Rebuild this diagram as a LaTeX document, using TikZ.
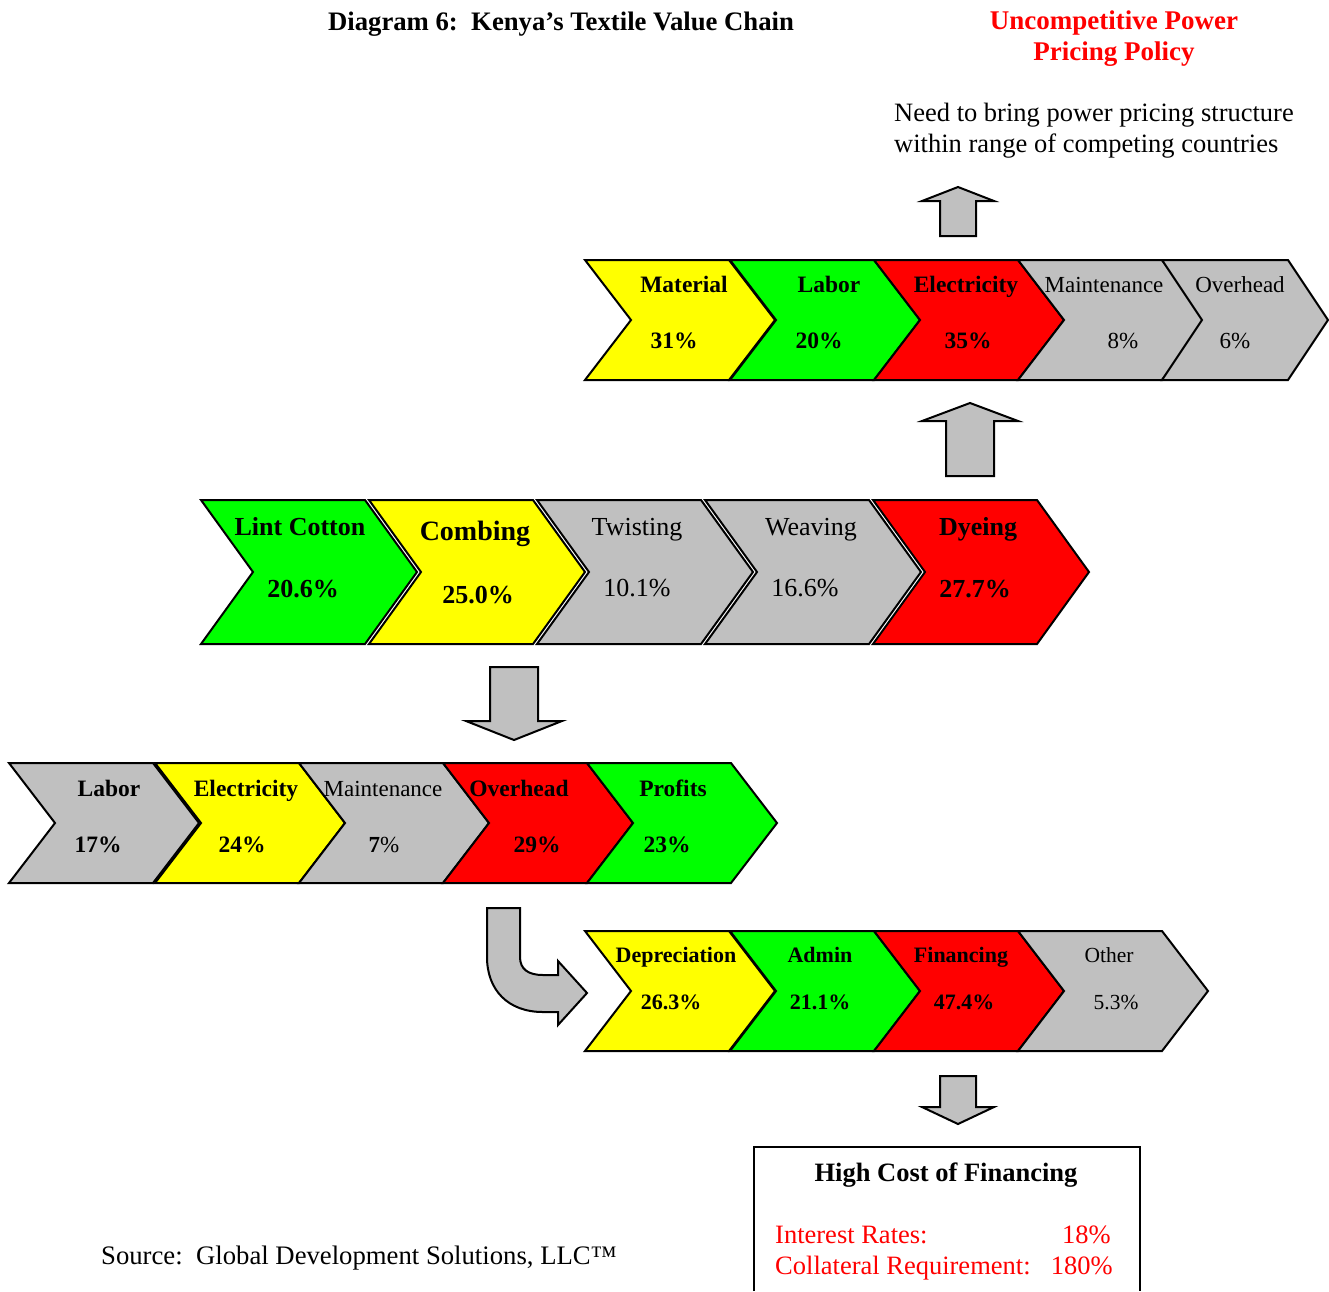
\documentclass[tikz,border=0pt]{standalone}
\usepackage{fontspec}
\setmainfont{Liberation Serif}
\usetikzlibrary{calc}

\definecolor{cyel}{RGB}{255,255,0}
\definecolor{cgrn}{RGB}{0,255,0}
\definecolor{cred}{RGB}{255,0,0}
\definecolor{cgry}{RGB}{192,192,192}

\tikzset{
    chevline/.style={draw=black, line width=2pt, line join=miter},
    blockarr/.style={draw=black, line width=2pt, fill=cgry, line join=miter},
    lbl/.style={anchor=base, inner sep=0pt, font=\fontsize{#1}{#1}\selectfont},
    lblb/.style={anchor=base, inner sep=0pt, font=\fontsize{#1}{#1}\selectfont\bfseries}
}

% chevron: left x, centre y, width, half height, tip, colour
\newcommand{\chevron}[6]{%
    \draw[chevline, fill=#6] (#1,#2-#4) -- ++(#3,0) -- ++(#5,#4) -- ++(-#5,#4)
        -- ++(-#3,0) -- ++(#5,-#4) -- cycle;}

\begin{document}
\begin{tikzpicture}[x=1pt, y=-1pt]
    \useasboundingbox (0,0) rectangle (1329,1291);

    % --- Headings ---
    \node[lblb=26.7] (title) at (561,30) {Diagram 6:\ \ Kenya’s Textile Value Chain};
    \node[text=cred, align=center, anchor=north, inner sep=0pt, font=\fontsize{27}{31}\selectfont\bfseries]
        (power) at (1114,11) {Uncompetitive Power\\Pricing Policy};
    \node[anchor=north west, align=left, inner sep=0pt, font=\fontsize{26.5}{31}\selectfont]
        (need) at (894,103) {Need to bring power pricing structure\\within range of competing countries};

    % --- Row 1: cost of yarn ---
    \foreach \x/\col in {585/cyel, 730/cgrn, 874/cred, 1018/cgry}
        \chevron{\x}{320}{144}{60}{46}{\col};
    \chevron{1162}{320}{126}{60}{40}{cgry};

    \node[lblb=23.5] (mat) at (684,292) {Material};
    \node[lblb=23.5] (matp) at (674,348) {31\%};
    \node[lblb=23.5] (lab) at (829,292) {Labor};
    \node[lblb=23.5] (labp) at (819,348) {20\%};
    \node[lblb=23.5] (elec) at (966,292) {Electricity};
    \node[lblb=23.5] (elecp) at (968,348) {35\%};
    \node[lbl=23] (maint) at (1104,292) {Maintenance};
    \node[lbl=23] (maintp) at (1123,348) {8\%};
    \node[lbl=23] (over) at (1240,292) {Overhead};
    \node[lbl=23] (overp) at (1235,348) {6\%};

    % --- Row 2: value chain stages ---
    \foreach \x/\col in {201/cgrn, 369/cyel, 537/cgry, 705/cgry, 873/cred}
        \chevron{\x}{572}{164}{72}{52}{\col};

    \node[lblb=26] (lint) at (300,535) {Lint Cotton};
    \node[lblb=26] (lintp) at (303,597) {20.6\%};
    \node[lblb=28] (comb) at (475,540) {Combing};
    \node[lblb=26] (combp) at (478,603) {25.0\%};
    \node[lbl=26] (twist) at (637,535) {Twisting};
    \node[lbl=26] (twistp) at (637,596) {10.1\%};
    \node[lbl=26] (weave) at (811,535) {Weaving};
    \node[lbl=26] (weavep) at (805,596) {16.6\%};
    \node[lblb=26] (dye) at (978,535) {Dyeing};
    \node[lblb=26] (dyep) at (975,597) {27.7\%};

    % --- Row 3: cost of combing ---
    \foreach \x/\col in {9/cgry, 155/cyel, 299/cgry, 443/cred, 587/cgrn}
        \chevron{\x}{823}{144}{60}{46}{\col};

    \node[lblb=23.5] (labc) at (109,796) {Labor};
    \node[lblb=23.5] (labcp) at (98,852) {17\%};
    \node[lblb=23.5] (elecc) at (246,796) {Electricity};
    \node[lblb=23.5] (eleccp) at (242,852) {24\%};
    \node[lbl=23] (maintc) at (383,796) {Maintenance};
    \node[lbl=23] (maintcp) at (384,852) {\bfseries 7\mdseries\%};
    \node[lblb=23.5] (overc) at (519,796) {Overhead};
    \node[lblb=23.5] (overcp) at (537,852) {29\%};
    \node[lblb=23.5] (prof) at (673,796) {Profits};
    \node[lblb=23.5] (profp) at (667,852) {23\%};

    % --- Row 4: overhead split ---
    \foreach \x/\col in {585/cyel, 730/cgrn, 874/cred, 1018/cgry}
        \chevron{\x}{991}{144}{60}{46}{\col};

    \node[lblb=22] (dep) at (676,962) {Depreciation};
    \node[lblb=22] (depp) at (671,1009) {26.3\%};
    \node[lblb=22] (adm) at (820,962) {Admin};
    \node[lblb=22] (admp) at (820,1009) {21.1\%};
    \node[lblb=22] (fin) at (961,962) {Financing};
    \node[lblb=22] (finp) at (964,1009) {47.4\%};
    \node[lbl=21.5] (oth) at (1109,962) {Other};
    \node[lbl=21.5] (othp) at (1116,1009) {5.3\%};

    % --- Block arrows ---
    \draw[blockarr] (940,236) -- (940,201) -- (922,201) -- (958,187) -- (994,201)
        -- (976,201) -- (976,236) -- cycle;
    \draw[blockarr] (946,476) -- (946,421) -- (922,421) -- (970,403) -- (1018,421)
        -- (994,421) -- (994,476) -- cycle;
    \draw[blockarr] (490,667) -- (538,667) -- (538,721) -- (562,721) -- (514,740)
        -- (466,721) -- (490,721) -- cycle;
    \draw[blockarr] (940,1076) -- (976,1076) -- (976,1107) -- (994,1107) -- (958,1124)
        -- (922,1107) -- (940,1107) -- cycle;
    \draw[blockarr] (487,908) -- (520,908) -- (520,957)
        .. controls (520,969) and (528,975) .. (543,975) -- (558,975) -- (558,961)
        -- (587,993) -- (558,1025) -- (558,1012) -- (543,1012)
        .. controls (508,1012) and (487,990) .. (487,957) -- cycle;

    % --- Financing box ---
    \draw[line width=2pt] (754,1291) -- (754,1147) -- (1140,1147) -- (1140,1291);
    \node[lblb=26.5] (hcf) at (946,1181) {High Cost of Financing};
    \node[lbl=26.5, anchor=base west, text=cred] (rate) at (775,1243) {Interest Rates:};
    \node[lbl=26.5, anchor=base east, text=cred] (ratev) at (1111,1243) {18\%};
    \node[lbl=26.5, anchor=base west, text=cred] (coll) at (775,1274) {Collateral Requirement:};
    \node[lbl=26.5, anchor=base east, text=cred] (collv) at (1113,1274) {180\%};

    % --- Source ---
    \node[lbl=26.7, anchor=base west] (src) at (101,1264) {Source:\ \ Global Development Solutions, LLC™};
\end{tikzpicture}
\end{document}
